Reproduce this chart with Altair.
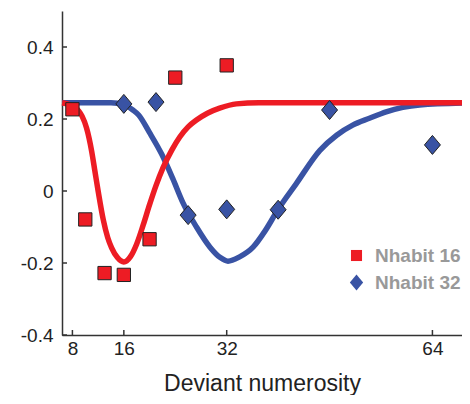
import altair as alt
import pandas as pd

# ---- data ----
series_names = ["Nhabit 16", "Nhabit 32"]

red_x = [8, 10, 13, 16, 20, 24, 32]
red_y = [0.227, -0.079, -0.228, -0.233, -0.134, 0.315, 0.349]

blue_x = [16, 21, 26, 32, 40, 48, 64]
blue_y = [0.242, 0.247, -0.067, -0.051, -0.052, 0.225, 0.128]

red_fit_x = [6.4, 8, 9, 9.5, 10.2, 11, 11.5, 12, 12.8, 13.5, 14.1, 15, 16, 17, 18, 19, 20, 21,
             22.1, 23.5, 24.7, 26, 27.3, 29, 30.9, 33.5, 37, 45, 70]
red_fit_y = [0.245, 0.236, 0.222, 0.208, 0.175, 0.110, 0.055, 0.000, -0.080, -0.130, -0.158,
             -0.185, -0.197, -0.183, -0.147, -0.095, -0.038, 0.015, 0.065, 0.115, 0.150, 0.178,
             0.197, 0.216, 0.230, 0.242, 0.245, 0.245, 0.245]

blue_fit_x = [6.4, 14, 16, 17.4, 18.3, 20, 21.9, 23.6, 25.2, 27.3, 29.4, 31, 32.2, 34, 36.1, 38,
              40, 42.8, 46.5, 49.1, 51.6, 54.2, 56.8, 62, 70]
blue_fit_y = [0.245, 0.245, 0.240, 0.225, 0.211, 0.162, 0.102, 0.035, -0.033, -0.100, -0.156,
              -0.185, -0.195, -0.183, -0.156, -0.110, -0.051, 0.020, 0.113, 0.155, 0.183, 0.202,
              0.220, 0.239, 0.245]

x_ticks = [8, 16, 32, 64]
y_ticks = [-0.4, -0.2, 0, 0.2, 0.4]

colors = ["#ED1C24", "#3953A4"]

# ---- tables ----
pts = pd.DataFrame({
    "x": red_x + blue_x,
    "y": red_y + blue_y,
    "series": [series_names[0]] * len(red_x) + [series_names[1]] * len(blue_x),
})
red_fit = pd.DataFrame({"x": red_fit_x, "y": red_fit_y})
blue_fit = pd.DataFrame({"x": blue_fit_x, "y": blue_fit_y})
xt = pd.DataFrame({"x": x_ticks})
yt = pd.DataFrame({"y": y_ticks})

W, H = 400, 324
xs = alt.Scale(domain=[6.38, 68.6], nice=False, zero=False)
ys = alt.Scale(domain=[-0.4, 0.5], nice=False, zero=False)

FONT = "Liberation Sans"
x_axis = alt.Axis(values=x_ticks, ticks=False, tickSize=0, grid=False, labelFontSize=19,
                  labelPadding=4, labelColor="#222", labelFont=FONT,
                  title="Deviant numerosity", titleFontSize=23, titleFontWeight="normal",
                  titleFont=FONT, titleColor="#222", titleBaseline="alphabetic", titleY=55,
                  domainColor="#333", domainWidth=1.5)
y_axis = alt.Axis(values=y_ticks, ticks=False, tickSize=0, grid=False, labelFontSize=19,
                  labelPadding=9, labelColor="#222", labelFont=FONT, title=None,
                  labelExpr="datum.value == 0 ? '0' : (datum.value < 0 ? '-' : '') + format(abs(datum.value), '.1f')",
                  domainColor="#333", domainWidth=1.5)

X = alt.X("x:Q", scale=xs, axis=x_axis)
Y = alt.Y("y:Q", scale=ys, axis=y_axis)

blue_line = alt.Chart(blue_fit).mark_line(strokeWidth=5.5, interpolate="monotone",
                                          color=colors[1]).encode(x=X, y=Y)
red_line = alt.Chart(red_fit).mark_line(strokeWidth=5.5, interpolate="monotone",
                                        color=colors[0]).encode(x=X, y=Y)

leg = alt.Legend(title=None, orient="none", legendX=285, legendY=235, padding=0,
                 labelFontSize=19, labelFontWeight="bold", labelColor="#999999", labelFont=FONT,
                 symbolSize=250, symbolStrokeColor="#111111", symbolStrokeWidth=1.5,
                 rowPadding=5, labelOffset=9)

points = alt.Chart(pts).mark_point(filled=True, opacity=1, stroke="#222", strokeWidth=1, size=361).encode(
    x=X, y=Y,
    fill=alt.Fill("series:N", scale=alt.Scale(domain=series_names, range=colors), legend=leg),
    shape=alt.Shape("series:N", scale=alt.Scale(domain=series_names,
                    range=["M-0.7,-0.7L0.7,-0.7L0.7,0.7L-0.7,0.7Z", "M-0.84,0L0,-1L0.84,0L0,1Z"]),
                    legend=leg),
)

yticks = alt.Chart(yt).mark_rule(color="#333", strokeWidth=1.5).encode(
    y=Y, x=alt.value(0), x2=alt.value(5))
xticks = alt.Chart(xt).mark_rule(color="#333", strokeWidth=1.5).encode(
    x=X, y=alt.value(H), y2=alt.value(H - 5))

chart = alt.layer(blue_line, red_line, yticks, xticks, points).properties(
    width=W, height=H,
    autosize=alt.AutoSizeParams(type="none"),
    padding={"left": 54, "top": 3, "right": 0, "bottom": 60},
    background="white",
).configure_view(stroke=None)

chart.save("out.html", embed_options={"renderer": "svg", "actions": False})
